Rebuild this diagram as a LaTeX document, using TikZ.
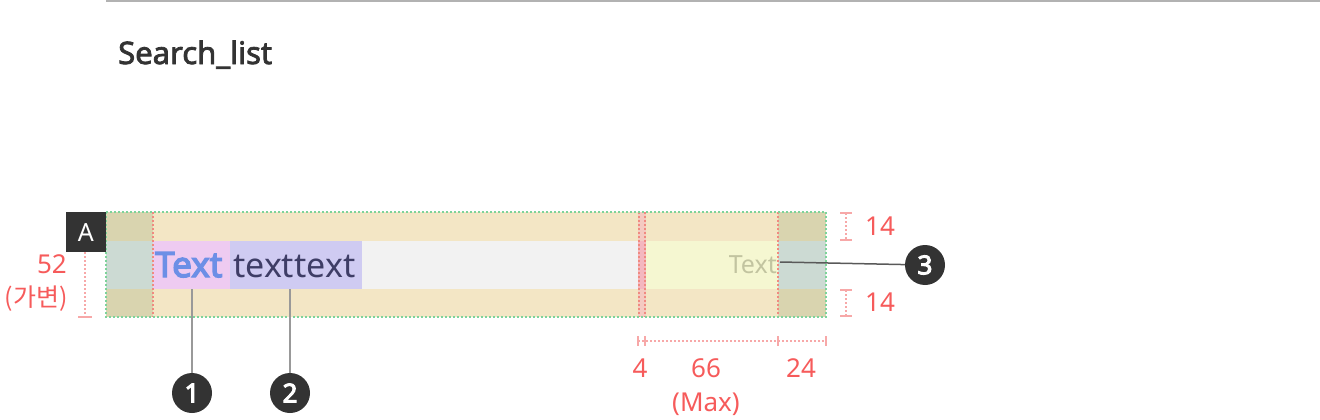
\documentclass[tikz,border=0pt]{standalone}
\usepackage{fontspec}
\setmainfont{Noto Sans}
\newfontfamily\semib{Noto Sans}[FakeBold=4]
\newfontfamily\medb{Noto Sans}[FakeBold=2.5]
\newfontfamily\krfont{Noto Sans CJK KR}
\definecolor{band}{HTML}{F3E6C5}
\definecolor{corner}{HTML}{D9D4AF}
\definecolor{side}{HTML}{CCDAD3}
\definecolor{pinkbg}{HTML}{EECBF1}
\definecolor{lavbg}{HTML}{CFCBF2}
\definecolor{graybg}{HTML}{F2F2F2}
\definecolor{yelbg}{HTML}{F5F7D1}
\definecolor{stripbg}{HTML}{F4B7BF}
\definecolor{greendot}{HTML}{7DD39A}
\definecolor{reddot}{HTML}{F08A80}
\definecolor{lblred}{HTML}{F65B5B}
\definecolor{dimpink}{HTML}{F7A8A8}
\definecolor{dark}{HTML}{333333}
\definecolor{bluetxt}{HTML}{6C8FE6}
\definecolor{navytxt}{HTML}{3E3D66}
\definecolor{phtxt}{HTML}{C2C4A0}
\begin{document}
\begin{tikzpicture}[x=1pt,y=-1pt,
  dotline/.style={line width=1.5pt,dash pattern=on 2pt off 2pt},
  greenline/.style={dotline,draw=greendot},
  redline/.style={dotline,draw=reddot},
  dimline/.style={line width=1.5pt,dash pattern=on 2pt off 2pt,draw=dimpink},
  dimtick/.style={line width=1.5pt,draw=dimpink},
  lbl/.style={text=lblred,font=\fontsize{26}{30}\selectfont,inner sep=0pt},
  badge/.style={circle,fill=dark,text=white,minimum size=40pt,inner sep=0pt,font=\semib\fontsize{26}{26}\selectfont},
  leader/.style={line width=2pt,draw=black!40}
]
\useasboundingbox (0,0) rectangle (1320,420);
% top rule
\draw[line width=2pt,draw=black!30] (106,1) -- (1320,1);
\node[anchor=base west,text=dark,font=\medb\fontsize{31}{34}\selectfont,inner sep=0pt] (title) at (118,64) {Search\_list};
% bands
\fill[band] (106,212) rectangle (826,241);
\fill[band] (106,289) rectangle (826,317);
\fill[corner] (106,212) rectangle (153,241);
\fill[corner] (106,289) rectangle (153,317);
\fill[corner] (778,212) rectangle (826,241);
\fill[corner] (778,289) rectangle (826,317);
\fill[side] (106,241) rectangle (153,289);
\fill[side] (778,241) rectangle (826,289);
\fill[pinkbg] (153,241) rectangle (230,289);
\fill[lavbg] (230,241) rectangle (362,289);
\fill[graybg] (362,241) rectangle (638,289);
\fill[stripbg] (638,241) rectangle (646,289);
\fill[stripbg!60!band] (638,212) rectangle (646,241);
\fill[stripbg!60!band] (638,289) rectangle (646,317);
\fill[yelbg] (646,241) rectangle (778,289);
% texts
\node[anchor=base west,inner sep=0pt,text=bluetxt,font=\semib\fontsize{35}{38}\selectfont] (t1) at (155,277) {Text};
\node[anchor=base west,inner sep=0pt,text=navytxt,font=\fontsize{34}{37}\selectfont] (t2) at (233,277) {texttext};
\node[anchor=base east,inner sep=0pt,text=phtxt,font=\fontsize{25}{28}\selectfont] (t3) at (777,273) {Text};
% red guides
\foreach \x in {153,639,645,778} \draw[redline] (\x,212) -- (\x,317);
% green border
\draw[greenline] (106,212) rectangle (826,317);
% A label
\node[fill=dark,text=white,minimum size=40pt,inner sep=0pt,anchor=north east,font=\fontsize{25}{25}\selectfont] (A) at (106,212) {A};
% left dim 52
\coordinate (lt) at (85,252);
\coordinate (lb) at (85,317);
\draw[dimline] (lt) -- (lb);
\draw[dimtick] (78,317) -- (92,317);
\node[lbl,anchor=base east] (n52) at (67,273) {52};
\node[lbl,anchor=base east,font=\krfont\fontsize{25}{28}\selectfont] (var) at (68,306) {(가변)};
% right dims 14
\draw[dimline] (846,213) -- (846,240);
\draw[dimtick] (840,213) -- (852,213);
\draw[dimtick] (840,240) -- (852,240);
\node[lbl,anchor=base west] (d14a) at (865,235) {14};
\draw[dimline] (846,290) -- (846,316);
\draw[dimtick] (840,290) -- (852,290);
\draw[dimtick] (840,316) -- (852,316);
\node[lbl,anchor=base west] (d14b) at (865,311) {14};
% bottom dims
\draw[dimline] (638,341) -- (826,341);
\foreach \x in {638,645,778,826} \draw[dimtick] (\x,336) -- (\x,346);
\node[lbl,anchor=base] (d4) at (640,377) {4};
\node[lbl,anchor=base] (d66) at (706,377) {66};
\node[lbl,anchor=base] (dmax) at (706,411) {(Max)};
\node[lbl,anchor=base] (d24) at (801,377) {24};
% badges
\node[badge] (b1) at (192,393) {1};
\node[badge] (b2) at (290,393) {2};
\node[badge] (b3) at (925,265) {3};
\coordinate (p1) at (192,289);
\coordinate (p2) at (290,289);
\coordinate (p3) at (780,262);
\draw[leader] (p1) -- (b1);
\draw[leader] (p2) -- (b2);
\draw[line width=1.5pt,draw=black!65] (p3) -- (b3);
\end{tikzpicture}
\end{document}
